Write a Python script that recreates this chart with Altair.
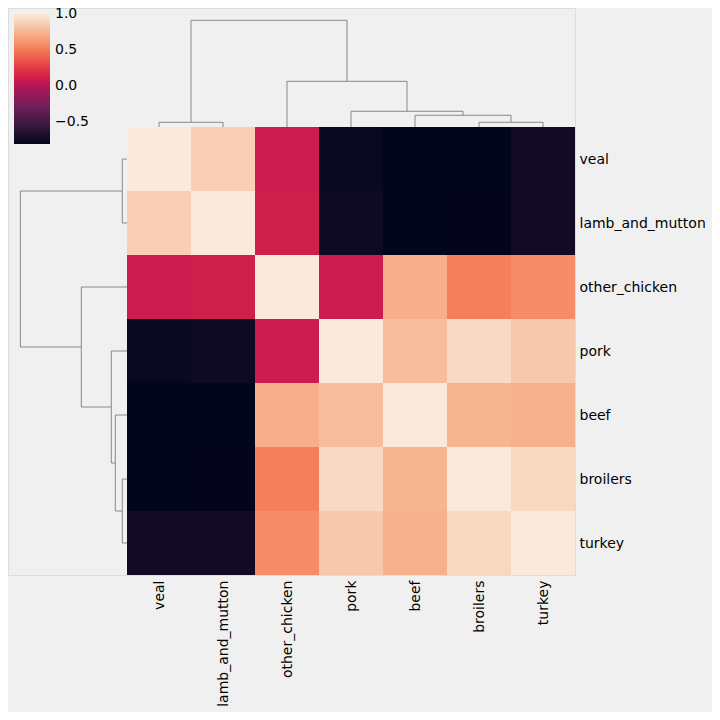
import altair as alt
import pandas as pd

# ---- data (order = dendrogram leaf order) ----
names = ["veal", "lamb_and_mutton", "other_chicken", "pork", "beef", "broilers", "turkey"]

veal            = [1.000, 0.874, 0.100, -0.764, -0.800, -0.800, -0.728]
lamb_and_mutton = [0.874, 1.000, 0.127, -0.737, -0.800, -0.795, -0.728]
other_chicken   = [0.100, 0.127, 1.000, 0.100, 0.726, 0.532, 0.586]
pork            = [-0.764, -0.737, 0.100, 1.000, 0.795, 0.920, 0.840]
beef            = [-0.800, -0.800, 0.726, 0.795, 1.000, 0.748, 0.734]
broilers        = [-0.800, -0.795, 0.532, 0.920, 0.748, 1.000, 0.915]
turkey          = [-0.728, -0.728, 0.586, 0.840, 0.734, 0.915, 1.000]
rows = [veal, lamb_and_mutton, other_chicken, pork, beef, broilers, turkey]

# linkage (scipy style ids: leaves 0..6, clusters 7..)
merge_left = [0, 5, 4, 3, 2, 7]
merge_right = [1, 6, 8, 9, 10, 11]
merge_height = [0.159, 0.159, 0.395, 0.530, 1.542, 3.600]

cbar_ticks = [1.0, 0.5, 0.0, -0.5]
vmin, vmax = -0.80, 1.004

# rocket colormap stops
rocket = ["#03051a", "#35193e", "#701f57", "#ad1759", "#cb1b4f", "#e13342",
          "#f37651", "#f6b48f", "#faebdd"]
rocket_pos = [0, 1/7, 2/7, 3/7, 0.5, 4/7, 5/7, 6/7, 1]

# ---- build tables ----
n = len(names)
cells = []
for i, rname in enumerate(names):
    for j, cname in enumerate(names):
        cells.append({"row": rname, "col": cname, "ri": i, "ri2": i + 1,
                      "ci": j, "ci2": j + 1, "value": rows[i][j]})
cells = pd.DataFrame(cells)

pos = {i: i + 0.5 for i in range(n)}
hgt = {i: 0.0 for i in range(n)}
for m, (a, b, h) in enumerate(zip(merge_left, merge_right, merge_height)):
    cid = n + m
    pos[cid] = (pos[a] + pos[b]) / 2
    hgt[cid] = h

SPAN = 112 / 64  # dendrogram panel depth in cell units
k = SPAN / (max(merge_height) * 1.05)
segs = []
for m, (a, b, h) in enumerate(zip(merge_left, merge_right, merge_height)):
    segs.append({"p1": pos[a], "p2": pos[a], "d1": -hgt[a] * k, "d2": -h * k})
    segs.append({"p1": pos[a], "p2": pos[b], "d1": -h * k, "d2": -h * k})
    segs.append({"p1": pos[b], "p2": pos[b], "d1": -hgt[b] * k, "d2": -h * k})
segs = pd.DataFrame(segs)

PAD_L, PAD_T = 0, 0
ox, oy = 8 + PAD_L, 8 + PAD_T
xdom = [-(127 - ox) / 64, n]
ydom = [-(127 - oy) / 64, n]
W, H = 575 - ox, 575 - oy
TOTAL = 704
label_expr = "[" + ",".join("'%s'" % s for s in names) + "][floor(datum.value)]"
tick_vals = [i + 0.5 for i in range(n)]

xaxis = alt.Axis(orient="bottom", values=tick_vals, labelExpr=label_expr, title=None,
                 ticks=False, domain=False, grid=False, labelAngle=270,
                 labelAlign="right", labelBaseline="middle", labelPadding=5,
                 labelFontSize=14, labelFont="DejaVu Sans", labelColor="black")
yaxis = alt.Axis(orient="right", values=tick_vals, labelExpr=label_expr, title=None,
                 ticks=False, domain=False, grid=False, labelPadding=4,
                 labelAlign="left", labelBaseline="middle",
                 labelFontSize=14, labelFont="DejaVu Sans", labelColor="black")
xs = alt.Scale(domain=xdom, nice=False, zero=False)
ys = alt.Scale(domain=ydom, nice=False, zero=False, reverse=True)

color_scale = alt.Scale(domain=[vmin + (vmax - vmin) * p for p in rocket_pos],
                        range=rocket, interpolate="rgb")

heat = alt.Chart(cells).mark_rect(strokeWidth=0).encode(
    x=alt.X("ci:Q", scale=xs, axis=xaxis),
    x2="ci2:Q",
    y=alt.Y("ri:Q", scale=ys, axis=yaxis),
    y2="ri2:Q",
    color=alt.Color("value:Q", scale=color_scale,
                    legend=alt.Legend(orient="none", legendX=14 - ox, legendY=14 - oy,
                                      direction="vertical", title=None,
                                      gradientLength=130, gradientThickness=36,
                                      values=cbar_ticks, format=".1f",
                                      labelFontSize=14, labelFont="DejaVu Sans",
                                      labelColor="black", labelOffset=5,
                                      labelBaseline="middle", labelOverlap=False,
                                      gradientStrokeWidth=0, padding=0)),
)

col_dendro = alt.Chart(segs).mark_rule(color="#888888", strokeWidth=1).encode(
    x=alt.X("p1:Q", scale=xs, axis=xaxis), x2="p2:Q",
    y=alt.Y("d1:Q", scale=ys, axis=yaxis), y2="d2:Q",
)
row_dendro = alt.Chart(segs).mark_rule(color="#888888", strokeWidth=1).encode(
    y=alt.Y("p1:Q", scale=ys, axis=yaxis), y2="p2:Q",
    x=alt.X("d1:Q", scale=xs, axis=xaxis), x2="d2:Q",
)

chart = alt.layer(heat, col_dendro, row_dendro).properties(
    width=W, height=H,
    autosize=alt.AutoSizeParams(type="none"),
    padding={"left": PAD_L, "top": PAD_T,
             "right": TOTAL - PAD_L - W, "bottom": TOTAL - PAD_T - H},
    background="#f0f0f0"
).configure_view(strokeWidth=0, stroke="transparent").configure(font="DejaVu Sans")

chart.save("out.html", embed_options={"renderer": "svg", "actions": False})
